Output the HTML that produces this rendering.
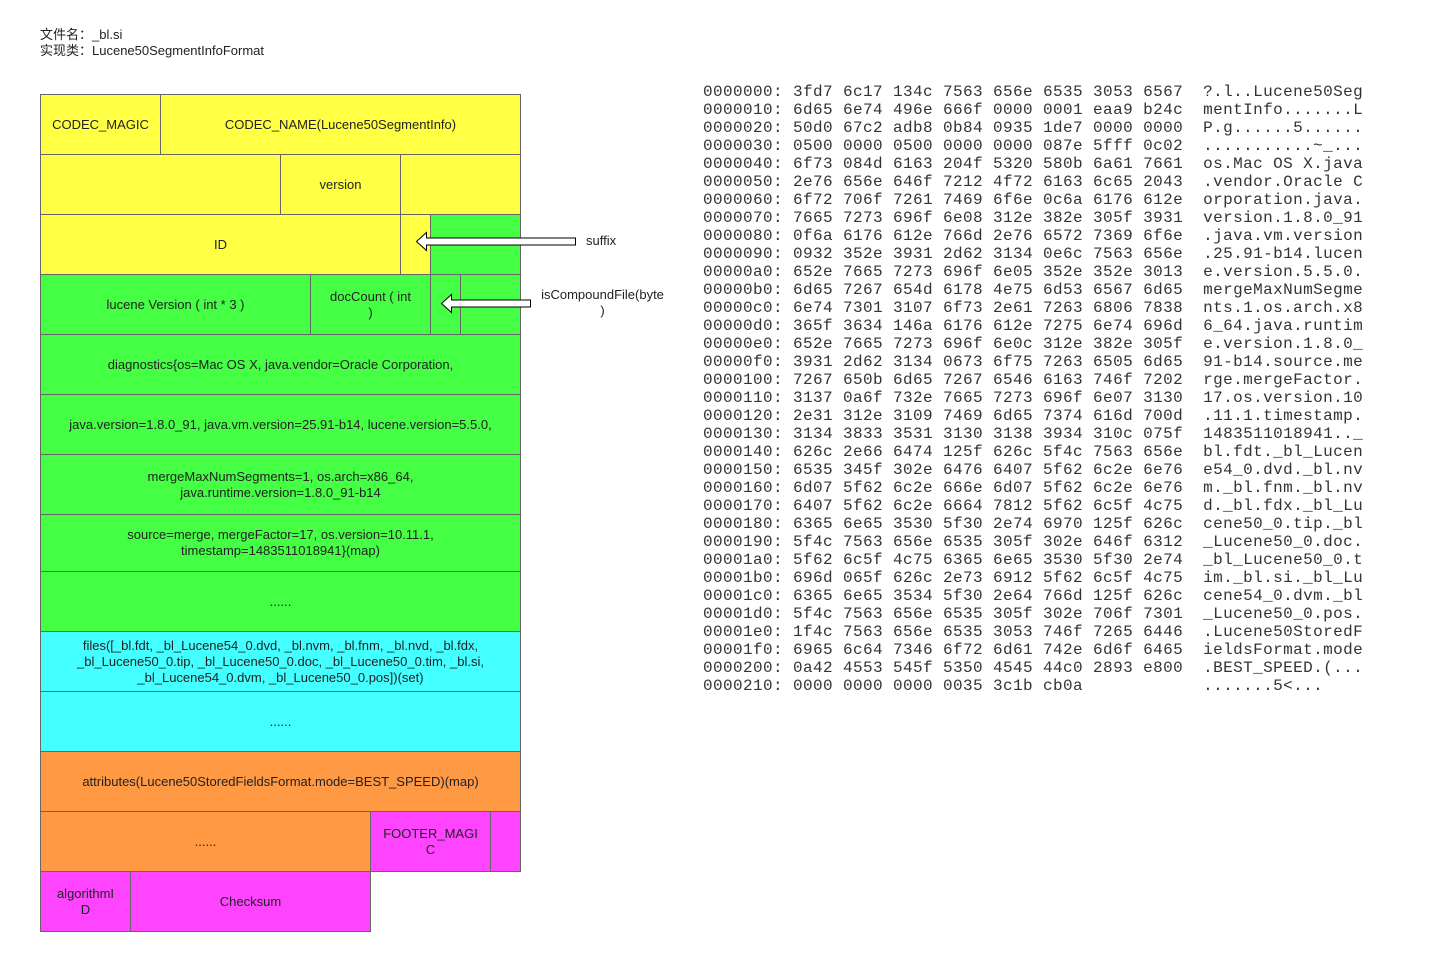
<!DOCTYPE html>
<html><head><meta charset="utf-8"><style>
body{margin:0;width:1437px;height:978px;background:#fff;position:relative;overflow:hidden;font-family:"Liberation Sans","Noto Sans CJK SC",sans-serif;color:#222}
.c{position:absolute;box-sizing:border-box;border:1px solid #666;display:flex;align-items:center;justify-content:center;text-align:center;font-size:13px;line-height:16px;padding:0 4px}
.y{background:#ffff44}.g{background:#44ff44}.b{background:#44ffff}.o{background:#ff9944}.m{background:#ff44ff}
pre{position:absolute;margin:0;font-family:"Liberation Mono",monospace;font-size:16px;letter-spacing:0.4px;line-height:18px;color:#333}
.t{position:absolute;font-size:13px;line-height:16px}
</style></head><body>
<div class="t" style="left:40px;top:27px">文件名：_bl.si<br>实现类：Lucene50SegmentInfoFormat</div>

<div class="c y" style="left:40px;top:94px;width:121px;height:61px">CODEC_MAGIC</div>
<div class="c y" style="left:160px;top:94px;width:361px;height:61px">CODEC_NAME(Lucene50SegmentInfo)</div>
<div class="c y" style="left:40px;top:154px;width:241px;height:61px"></div>
<div class="c y" style="left:280px;top:154px;width:121px;height:61px">version</div>
<div class="c y" style="left:400px;top:154px;width:121px;height:61px"></div>
<div class="c y" style="left:40px;top:214px;width:361px;height:61px">ID</div>
<div class="c y" style="left:400px;top:214px;width:31px;height:61px"></div>
<div class="c g" style="left:430px;top:214px;width:91px;height:61px"></div>
<div class="c g" style="left:40px;top:274px;width:271px;height:61px">lucene Version ( int * 3 )</div>
<div class="c g" style="left:310px;top:274px;width:121px;height:61px">docCount ( int<br>)</div>
<div class="c g" style="left:430px;top:274px;width:31px;height:61px"></div>
<div class="c g" style="left:460px;top:274px;width:61px;height:61px"></div>
<div class="c g" style="left:40px;top:334px;width:481px;height:61px">diagnostics{os=Mac OS X, java.vendor=Oracle Corporation,</div>
<div class="c g" style="left:40px;top:394px;width:481px;height:61px">java.version=1.8.0_91, java.vm.version=25.91-b14, lucene.version=5.5.0,</div>
<div class="c g" style="left:40px;top:454px;width:481px;height:61px">mergeMaxNumSegments=1, os.arch=x86_64,<br>java.runtime.version=1.8.0_91-b14</div>
<div class="c g" style="left:40px;top:514px;width:481px;height:58px">source=merge, mergeFactor=17, os.version=10.11.1,<br>timestamp=1483511018941}(map)</div>
<div class="c g" style="left:40px;top:571px;width:481px;height:61px">......</div>
<div class="c b" style="left:40px;top:631px;width:481px;height:61px">files([_bl.fdt, _bl_Lucene54_0.dvd, _bl.nvm, _bl.fnm, _bl.nvd, _bl.fdx,<br>_bl_Lucene50_0.tip, _bl_Lucene50_0.doc, _bl_Lucene50_0.tim, _bl.si,<br>_bl_Lucene54_0.dvm, _bl_Lucene50_0.pos])(set)</div>
<div class="c b" style="left:40px;top:691px;width:481px;height:61px">......</div>
<div class="c o" style="left:40px;top:751px;width:481px;height:61px">attributes(Lucene50StoredFieldsFormat.mode=BEST_SPEED)(map)</div>
<div class="c o" style="left:40px;top:811px;width:331px;height:61px">......</div>
<div class="c m" style="left:370px;top:811px;width:121px;height:61px">FOOTER_MAGI<br>C</div>
<div class="c m" style="left:490px;top:811px;width:31px;height:61px"></div>
<div class="c m" style="left:40px;top:871px;width:91px;height:61px">algorithmI<br>D</div>
<div class="c m" style="left:130px;top:871px;width:241px;height:61px">Checksum</div>

<svg style="position:absolute;left:0;top:0" width="1437" height="978">
<path d="M416.5 241.5 L426.5 232.5 L426.5 238 L575.5 238 L575.5 245 L426.5 245 L426.5 250.5 Z" fill="#fff" stroke="#000" stroke-width="1"/>
<path d="M441.5 303.5 L451.5 294.5 L451.5 300 L530.5 300 L530.5 307 L451.5 307 L451.5 312.5 Z" fill="#fff" stroke="#000" stroke-width="1"/>
</svg>
<div class="t" style="left:586px;top:233px">suffix</div>
<div class="t" style="left:535px;top:287px;width:135px;text-align:center">isCompoundFile(byte<br>)</div>

<pre style="left:703px;top:83px">0000000: 3fd7 6c17 134c 7563 656e 6535 3053 6567  ?.l..Lucene50Seg
0000010: 6d65 6e74 496e 666f 0000 0001 eaa9 b24c  mentInfo.......L
0000020: 50d0 67c2 adb8 0b84 0935 1de7 0000 0000  P.g......5......
0000030: 0500 0000 0500 0000 0000 087e 5fff 0c02  ...........~_...
0000040: 6f73 084d 6163 204f 5320 580b 6a61 7661  os.Mac OS X.java
0000050: 2e76 656e 646f 7212 4f72 6163 6c65 2043  .vendor.Oracle C
0000060: 6f72 706f 7261 7469 6f6e 0c6a 6176 612e  orporation.java.
0000070: 7665 7273 696f 6e08 312e 382e 305f 3931  version.1.8.0_91
0000080: 0f6a 6176 612e 766d 2e76 6572 7369 6f6e  .java.vm.version
0000090: 0932 352e 3931 2d62 3134 0e6c 7563 656e  .25.91-b14.lucen
00000a0: 652e 7665 7273 696f 6e05 352e 352e 3013  e.version.5.5.0.
00000b0: 6d65 7267 654d 6178 4e75 6d53 6567 6d65  mergeMaxNumSegme
00000c0: 6e74 7301 3107 6f73 2e61 7263 6806 7838  nts.1.os.arch.x8
00000d0: 365f 3634 146a 6176 612e 7275 6e74 696d  6_64.java.runtim
00000e0: 652e 7665 7273 696f 6e0c 312e 382e 305f  e.version.1.8.0_
00000f0: 3931 2d62 3134 0673 6f75 7263 6505 6d65  91-b14.source.me
0000100: 7267 650b 6d65 7267 6546 6163 746f 7202  rge.mergeFactor.
0000110: 3137 0a6f 732e 7665 7273 696f 6e07 3130  17.os.version.10
0000120: 2e31 312e 3109 7469 6d65 7374 616d 700d  .11.1.timestamp.
0000130: 3134 3833 3531 3130 3138 3934 310c 075f  1483511018941.._
0000140: 626c 2e66 6474 125f 626c 5f4c 7563 656e  bl.fdt._bl_Lucen
0000150: 6535 345f 302e 6476 6407 5f62 6c2e 6e76  e54_0.dvd._bl.nv
0000160: 6d07 5f62 6c2e 666e 6d07 5f62 6c2e 6e76  m._bl.fnm._bl.nv
0000170: 6407 5f62 6c2e 6664 7812 5f62 6c5f 4c75  d._bl.fdx._bl_Lu
0000180: 6365 6e65 3530 5f30 2e74 6970 125f 626c  cene50_0.tip._bl
0000190: 5f4c 7563 656e 6535 305f 302e 646f 6312  _Lucene50_0.doc.
00001a0: 5f62 6c5f 4c75 6365 6e65 3530 5f30 2e74  _bl_Lucene50_0.t
00001b0: 696d 065f 626c 2e73 6912 5f62 6c5f 4c75  im._bl.si._bl_Lu
00001c0: 6365 6e65 3534 5f30 2e64 766d 125f 626c  cene54_0.dvm._bl
00001d0: 5f4c 7563 656e 6535 305f 302e 706f 7301  _Lucene50_0.pos.
00001e0: 1f4c 7563 656e 6535 3053 746f 7265 6446  .Lucene50StoredF
00001f0: 6965 6c64 7346 6f72 6d61 742e 6d6f 6465  ieldsFormat.mode
0000200: 0a42 4553 545f 5350 4545 44c0 2893 e800  .BEST_SPEED.(...
0000210: 0000 0000 0000 0035 3c1b cb0a            .......5<...</pre>
</body></html>
